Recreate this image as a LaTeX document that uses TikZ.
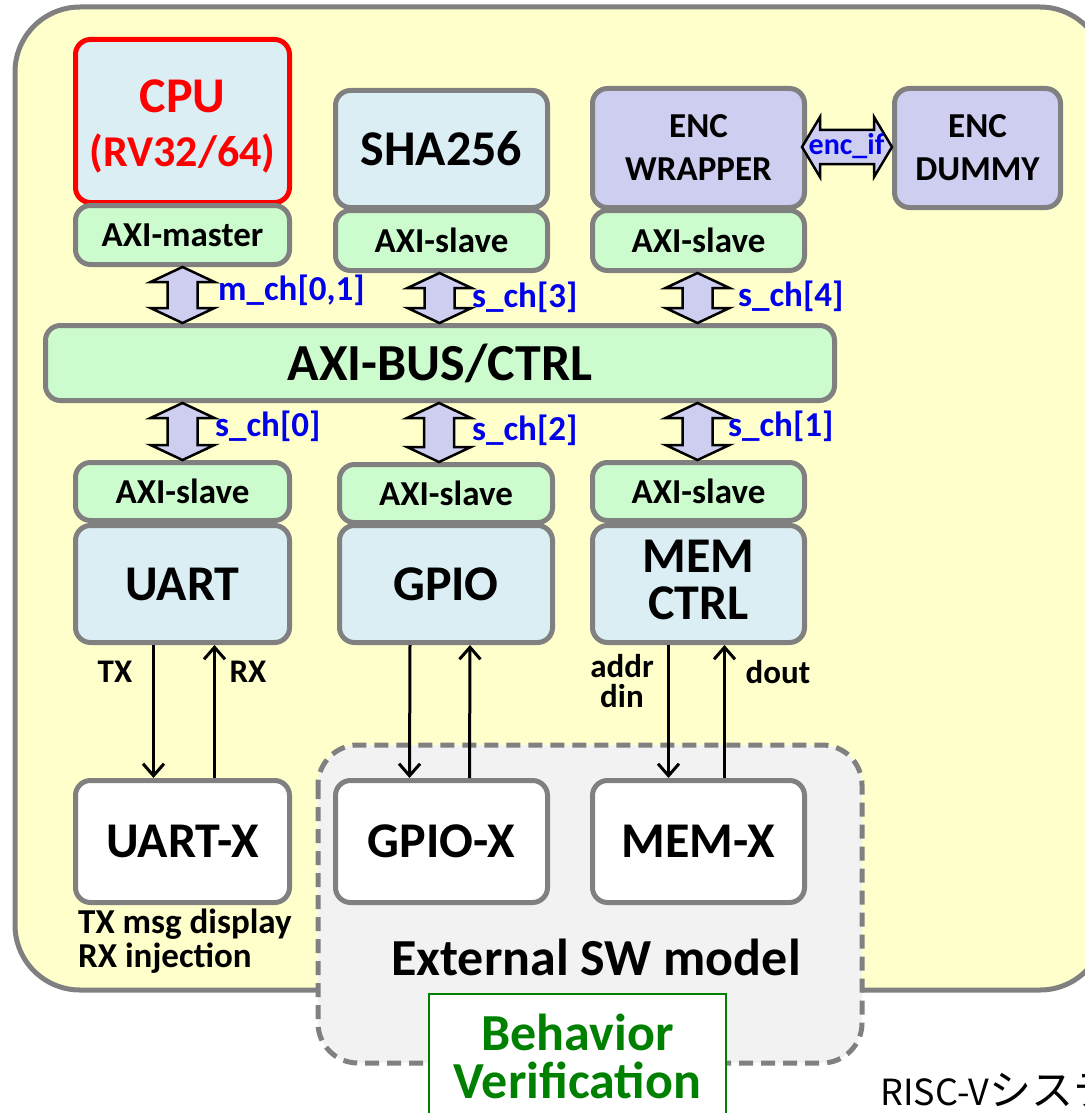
\documentclass[tikz,border=0pt]{standalone}
\usepackage{fontspec}
\setmainfont{Carlito}
\newfontfamily\jpfont{Noto Sans CJK JP}
\usetikzlibrary{calc,arrows.meta}

\definecolor{framegray}{RGB}{128,128,128}
\definecolor{bgyellow}{RGB}{255,255,204}
\definecolor{unitcyan}{RGB}{218,238,243}
\definecolor{axigreen}{RGB}{204,252,206}
\definecolor{encviolet}{RGB}{206,206,240}
\definecolor{swgray}{RGB}{242,242,242}
\definecolor{chblue}{RGB}{0,0,235}
\definecolor{verifgreen}{RGB}{0,128,0}

\newcommand\fs[1]{\fontsize{#1}{#1}\selectfont}

% vertical double-headed bus arrow between two points (x taken from the first)
\newcommand\busarrow[2]{%
  \filldraw[busfill] let \p1=(#1), \p2=(#2) in
    (\x1,\y1) -- (\x1+32pt,\y1-15pt) -- (\x1+15pt,\y1-15pt)
    -- (\x1+15pt,\y2+15pt) -- (\x1+32pt,\y2+15pt) -- (\x1,\y2)
    -- (\x1-32pt,\y2+15pt) -- (\x1-15pt,\y2+15pt)
    -- (\x1-15pt,\y1-15pt) -- (\x1-32pt,\y1-15pt) -- cycle;}

\begin{document}
\begin{tikzpicture}[x=1pt,y=-1pt,
  box/.style={draw=framegray, line width=5pt, rounded corners=15pt,
    inner sep=0pt, align=center, anchor=north west, text=black,
    font=\bfseries\fs{50}},
  unit/.style={box, fill=unitcyan},
  axi/.style={box, fill=axigreen, font=\bfseries\fs{35}},
  encbox/.style={box, fill=encviolet, font=\bfseries\fs{35}},
  xbox/.style={box, fill=white},
  boxtext/.style={inner sep=0pt, align=center, font=\bfseries\fs{50}},
  busfill/.style={draw=black, line width=2.5pt, fill=encviolet, line join=miter},
  chlabel/.style={anchor=west, text=chblue, font=\bfseries\fs{35}, inner sep=0pt},
  sig/.style={draw=black, line width=3pt, -{Straight Barb[length=12pt,width=21pt,line width=3pt]}},
  siglabel/.style={font=\bfseries\fs{33}, inner sep=0pt, align=center},
]
\useasboundingbox (0,0) rectangle (1084,1113);

% system frame
\path[draw=framegray, fill=bgyellow, line width=5pt, rounded corners=65pt]
  (15,7) rectangle (1105,990);

% upper row
\node[unit, draw=red, minimum width=214, minimum height=163] (cpu) at (73,37) {};
\node[boxtext, text=red] (cputext) at ($(cpu.center)+(0,5)$)
  {CPU\\[4pt]{\fs{44}(RV32/64)}};
\node[axi, minimum width=214, minimum height=59] (cpuaxi) at (73,203) {AXI-master};
\node[unit, minimum width=212, minimum height=117] (sha) at (333,88) {SHA256};
\node[axi, minimum width=212, minimum height=60] (shaaxi) at (333,208) {AXI-slave};
\node[encbox, minimum width=212, minimum height=119] (enc) at (590,86)
  {ENC\\[8pt]WRAPPER};
\node[axi, minimum width=212, minimum height=60] (encaxi) at (590,208) {AXI-slave};
\node[encbox, minimum width=166, minimum height=119] (dummy) at (892,86)
  {ENC\\[8pt]DUMMY};

% enc_if horizontal double arrow
\filldraw[busfill] let \p1=($(enc.east)+(-5,-1)$), \p2=($(dummy.west)+(0,-1)$) in
  (\x1,\y1) -- (\x1+18pt,\y1+30pt) -- (\x1+18pt,\y1+17pt)
  -- (\x2-18pt,\y1+17pt) -- (\x2-18pt,\y1+30pt) -- (\x2,\y1)
  -- (\x2-18pt,\y1-30pt) -- (\x2-18pt,\y1-17pt)
  -- (\x1+18pt,\y1-17pt) -- (\x1+18pt,\y1-30pt) -- cycle;
\node[text=chblue, font=\bfseries\fs{30}, inner sep=0pt] (encif)
  at ($(enc.east)!0.5!(dummy.west)+(-3,-2)$) {enc\_if};

% bus
\node[axi, minimum width=789, minimum height=75, font=\bfseries\fs{52}] (bus) at (43,323)
  {AXI-BUS/CTRL};

% lower row
\node[axi, minimum width=214, minimum height=58] (uaxi) at (73,460) {AXI-slave};
\node[axi, minimum width=213, minimum height=58] (gaxi) at (337,462) {AXI-slave};
\node[axi, minimum width=212, minimum height=58] (maxi) at (590,460) {AXI-slave};
\node[unit, minimum width=214, minimum height=117] (uart) at (73,523) {UART};
\node[unit, minimum width=213, minimum height=117] (gpio) at (337,523) {GPIO};
\node[unit, minimum width=212, minimum height=117] (mem) at (590,523) {};
\node[boxtext] (memtext) at ($(mem.center)+(0,-4)$) {MEM\\[-3pt]CTRL};

% bus arrows
\busarrow{cpuaxi.south}{bus.north -| cpuaxi.south}
\busarrow{$(shaaxi.south)+(-2,0)$}{bus.north -| shaaxi.south}
\busarrow{$(encaxi.south)+(-1,0)$}{bus.north -| encaxi.south}
\busarrow{uaxi.north |- bus.south}{uaxi.north}
\busarrow{$(gaxi.north |- bus.south)+(-7,0)$}{gaxi.north}
\busarrow{$(maxi.north |- bus.south)+(-1,0)$}{maxi.north}

\node[chlabel] (lm) at (218,290) {m\_ch[0,1]};
\node[chlabel] (l3) at (472,297) {s\_ch[3]};
\node[chlabel] (l4) at (738,296) {s\_ch[4]};
\node[chlabel] (l0) at (215,426) {s\_ch[0]};
\node[chlabel] (l2) at (472,430) {s\_ch[2]};
\node[chlabel] (l1) at (728,426) {s\_ch[1]};

% external software model
\path[draw=framegray, fill=swgray, line width=5pt, rounded corners=40pt,
  dash pattern=on 14pt off 8pt] (318,745) rectangle (862,1063);
\node[xbox, minimum width=214, minimum height=122] (uartx) at (73,778) {UART-X};
\node[xbox, minimum width=212, minimum height=122] (gpiox) at (333,778) {GPIO-X};
\node[xbox, minimum width=212, minimum height=122] (memx) at (590,778) {MEM-X};

% signal lines
\draw[sig] ($(uart.south)+(-29,0)$) -- ($(uartx.north)+(-29,0)$);
\draw[sig] ($(uartx.north)+(32,0)$) -- ($(uart.south)+(32,0)$);
\draw[sig] ($(gpio.south)+(-36,0)$) -- ($(gpiox.north)+(-32,0)$);
\draw[sig] ($(gpiox.north)+(28,0)$) -- ($(gpio.south)+(24,0)$);
\draw[sig] ($(mem.south)+(-30,0)$) -- ($(memx.north)+(-30,0)$);
\draw[sig] ($(memx.north)+(26,0)$) -- ($(mem.south)+(26,0)$);

\node[siglabel] (tx) at (115,672) {TX};
\node[siglabel] (rx) at (248,672) {RX};
\node[siglabel] (addr) at (622,681) {addr\\[-3pt]din};
\node[siglabel] (dout) at (778,672) {dout};

\node[anchor=north west, align=left, font=\bfseries\fs{35}, inner sep=0pt] (uartnote)
  at (78,909) {TX msg display\\[-1pt]RX injection};
\node[font=\bfseries\fs{52}, inner sep=0pt] (swlabel) at (596,957) {External SW model};

% verification tag
\node[draw=verifgreen, fill=white, line width=2pt, anchor=north west,
  minimum width=297, minimum height=124, inner sep=0pt, align=center,
  text=verifgreen, font=\bfseries\fs{52}] (verif) at (428,993)
  {Behavior\\[-4pt]Verification};

\node[anchor=base west, inner sep=0pt, font=\jpfont\fs{36}] (caption) at (880,1105)
  {RISC-V{\fs{42}システム}};
\end{tikzpicture}
\end{document}
